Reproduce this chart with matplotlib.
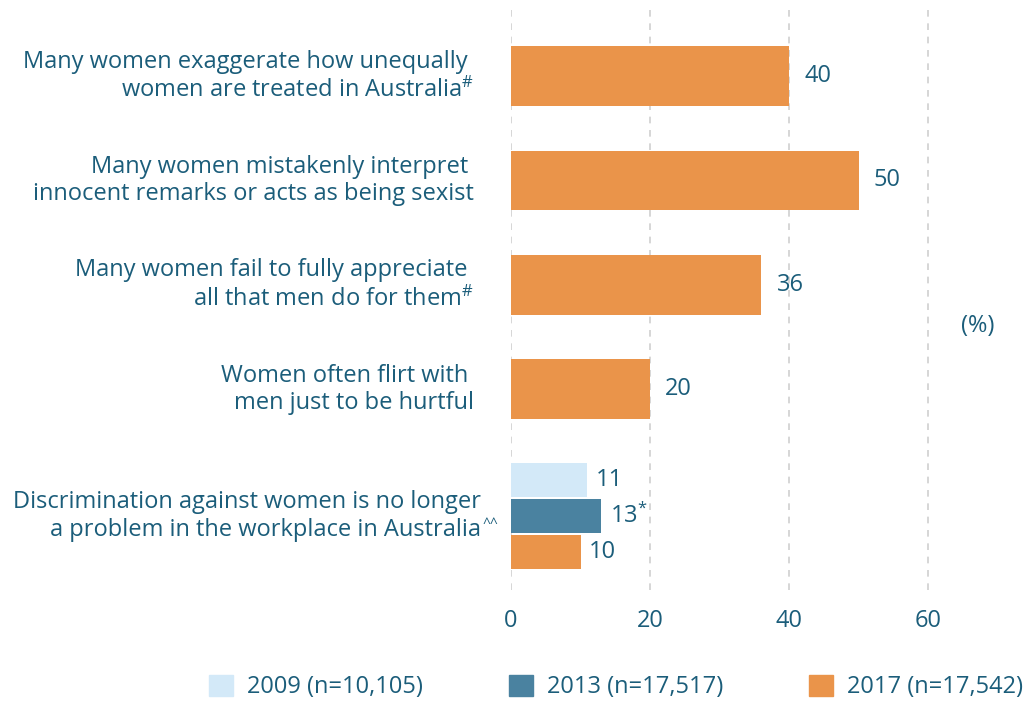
import matplotlib
matplotlib.use("Agg")
import matplotlib.pyplot as plt
import matplotlib.patches as patches

plt.rcParams['font.family'] = ['Open Sans', 'DejaVu Sans']
plt.rcParams['mathtext.fontset'] = 'custom'
plt.rcParams['mathtext.rm'] = 'Open Sans'
plt.rcParams['mathtext.default'] = 'regular'

# data
labels = [
    "Many women exaggerate how unequally \nwomen are treated in Australia$^{\\#}$",
    "Many women mistakenly interpret \ninnocent remarks or acts as being sexist",
    "Many women fail to fully appreciate \nall that men do for them$^{\\#}$",
    "Women often flirt with \nmen just to be hurtful",
    "Discrimination against women is no longer\na problem in the workplace in Australia",
]
label_marks = ["", "", "", "", "^^"]
vals_2017 = [40, 50, 36, 20, 10]
vals_2013 = [13]
vals_2009 = [11]
val_text_2017 = ["40", "50", "36", "20", "10"]
val_text_2013 = ["13$^{*}$"]
val_text_2009 = ["11"]
legend_labels = ["2009 (n=10,105)", "2013 (n=17,517)", "2017 (n=17,542)"]
xticks = [0, 20, 40, 60]

c_2009 = '#d3e9f8'
c_2013 = '#4a82a0'
c_2017 = '#ea944a'
c_text = '#1b5d7a'
c_grid = '#cfcfcf'
fs = 17

fig = plt.figure(figsize=(10.24, 7.02), dpi=100)
W, H = 1024, 702
# axes: x=0 at 511px, 6.95 px per unit; spans 10px..590px vertically
ax = fig.add_axes([511 / W, (H - 590) / H, (W - 511) / W, 580 / H])
ax.set_xlim(0, (W - 511) / 6.95)

ypos = [0, 1, 2, 3, 4.21]
ax.set_ylim(4.92, -0.632)

single_h = 0.574
grp_h = 0.325
off = 0.344

# single bars for first four, grouped bars for the last
for i in range(4):
    ax.barh(ypos[i], vals_2017[i], height=single_h, color=c_2017, zorder=3)
    ax.text(vals_2017[i] + 2.2, ypos[i], val_text_2017[i], va='center', ha='left',
            fontsize=fs, color=c_text)

g = ypos[4]
ax.barh(g - off, vals_2009[0], height=grp_h, color=c_2009, zorder=3)
ax.barh(g, vals_2013[0], height=grp_h, color=c_2013, zorder=3)
ax.barh(g + off, vals_2017[4], height=grp_h, color=c_2017, zorder=3)
ax.text(vals_2009[0] + 1.2, g - off, val_text_2009[0], va='center', ha='left', fontsize=fs, color=c_text)
ax.text(vals_2013[0] + 1.2, g, val_text_2013[0], va='center', ha='left', fontsize=fs, color=c_text)
ax.text(vals_2017[4] + 1.2, g + off, val_text_2017[4], va='center', ha='left', fontsize=fs, color=c_text)

# category labels
for i, lab in enumerate(labels):
    xr = -37 / 6.95 if i < 4 else -30 / 6.95
    t = ax.text(xr, ypos[i], lab, ha='right', va='center', multialignment='right',
                fontsize=fs, color=c_text, linespacing=1.2)
    if label_marks[i]:
        ax.annotate(label_marks[i], xy=(1.0, 0.5), xycoords=t, xytext=(1, -1),
                    textcoords='offset points', ha='left', va='top',
                    fontsize=10, color=c_text)

# dashed gridlines
for t in xticks:
    ax.axvline(t, color=c_grid, linestyle=(0, (4, 4)), linewidth=1.2, zorder=0)

ax.set_xticks(xticks)
ax.set_xticklabels([str(t) for t in xticks], fontsize=fs, color=c_text)
ax.tick_params(axis='x', length=0, pad=14)
ax.set_yticks([])
for s in ax.spines.values():
    s.set_visible(False)

fig.text(978 / W, 1 - 326 / H, "(%)", ha='center', va='center', fontsize=fs, color=c_text)

handles = [patches.Patch(color=c) for c in (c_2009, c_2013, c_2017)]
leg = fig.legend(handles, legend_labels, loc='center', ncol=3,
                 bbox_to_anchor=(616 / W, 1 - 687 / H), frameon=False,
                 fontsize=fs, handlelength=1.0, handleheight=1.0,
                 handletextpad=0.6, columnspacing=3.65, borderpad=0.2)
for t in leg.get_texts():
    t.set_color(c_text)

fig.savefig("out.png", dpi=100)
